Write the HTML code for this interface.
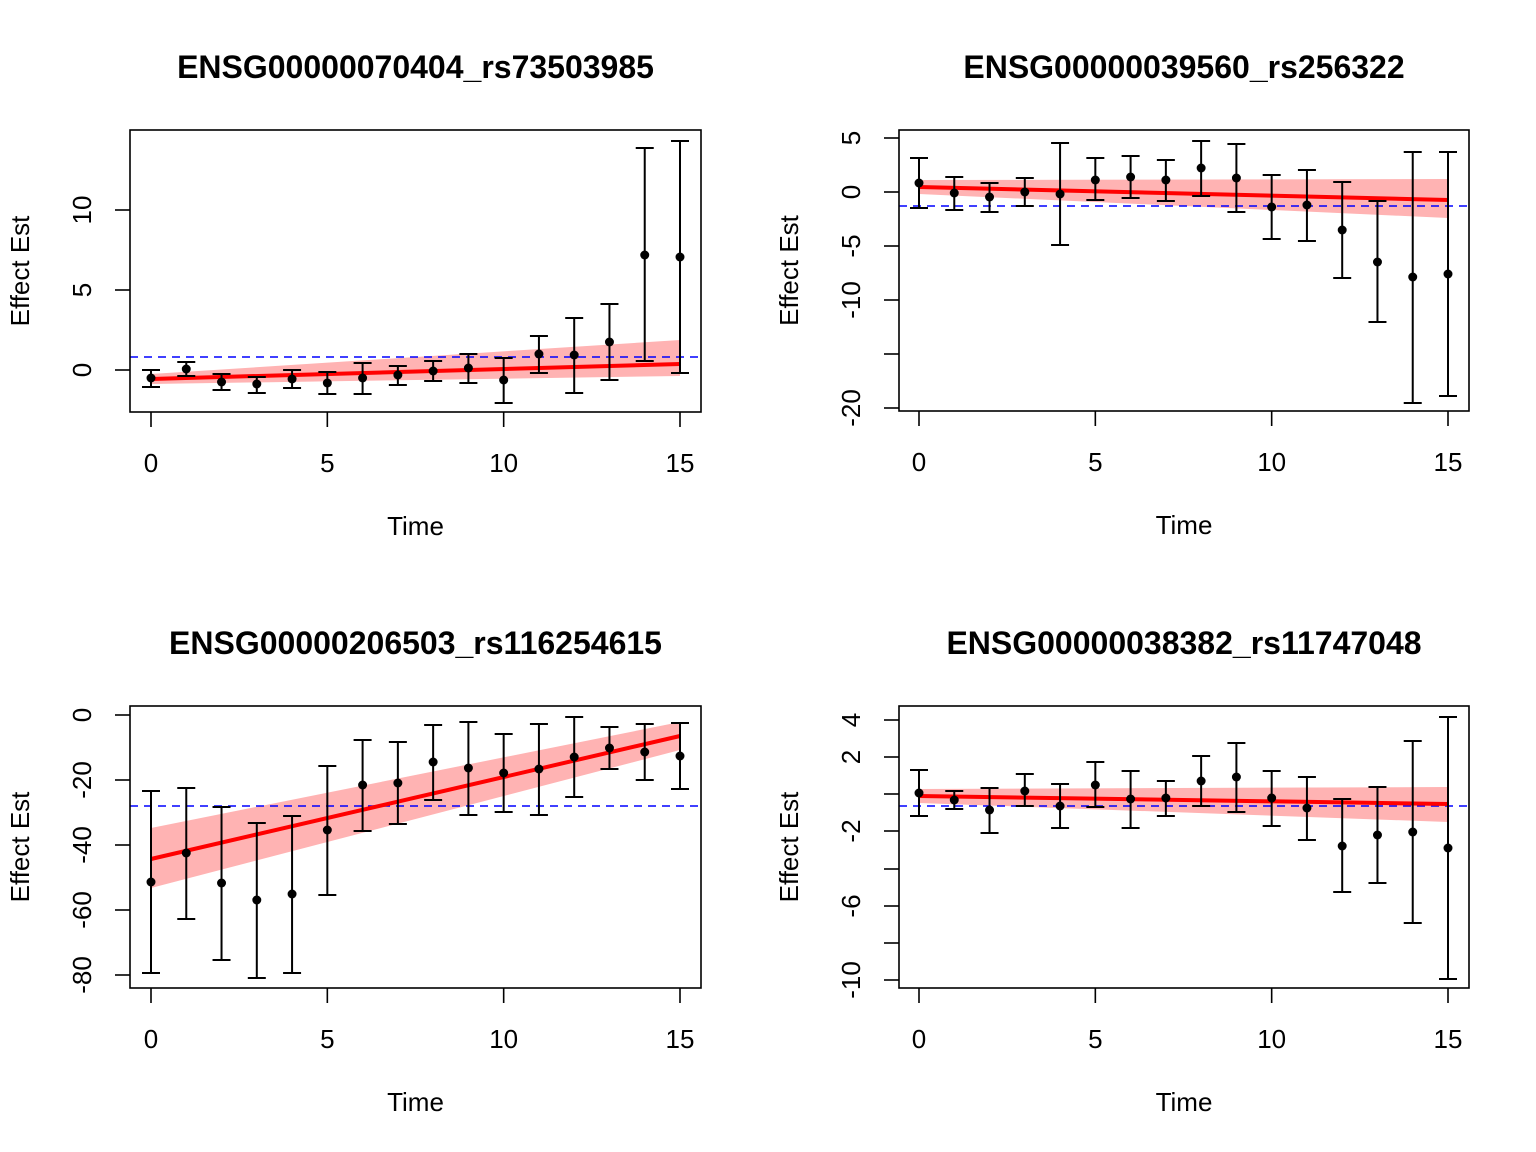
<!DOCTYPE html>
<html><head><meta charset="utf-8"><style>
html,body{margin:0;padding:0;background:#fff}
svg{display:block}
text{font-family:"Liberation Sans",Arial,sans-serif;fill:#000}
</style></head><body>
<svg id="s" width="1536" height="1152" xmlns="http://www.w3.org/2000/svg"></svg>
<script>
var P=[
{title:"ENSG00000070404_rs73503985",bx:130,by:130,bw:571,bh:282,x0:151,x15:680,
 yt:[[370,"0"],[290,"5"],[210,"10"]],blue:357,line:[379,364],band:[[374,384],[340,376]],
 pts:[[378,370,387],[369,362,376],[382,374,390],[384,377,393],[379,370,388],[383,372,394],[378,363,394],[375,366,385],[371,361,381],[368,354,383],[380,358,403],[354,336,373],[355,318,393],[342,304,380],[255,148,361],[257,141,373]]},
{title:"ENSG00000039560_rs256322",bx:899,by:130,bw:570,bh:281,x0:919,x15:1448,
 yt:[[138,"5"],[192,"0"],[246,"-5"],[300,"-10"],[354,""],[408,"-20"]],blue:206,line:[187,200],band:[[180,194],[179,218]],
 pts:[[183,158,208],[193,177,210],[197,183,212],[192,178,206],[194,143,245],[180,158,200],[177,156,198],[180,160,201],[168,141,196],[178,144,212],[207,175,239],[205,170,241],[230,182,278],[262,201,322],[277,152,403],[274,152,396]]},
{title:"ENSG00000206503_rs116254615",bx:130,by:706,bw:571,bh:282,x0:151,x15:680,
 yt:[[715,"0"],[780,"-20"],[845,"-40"],[910,"-60"],[975,"-80"]],blue:806,line:[859,736],band:[[828,888],[722,750]],
 pts:[[882,791,973],[853,788,919],[883,807,960],[900,823,978],[894,816,973],[830,766,895],[785,740,831],[783,742,824],[762,725,800],[768,722,815],[773,734,812],[769,724,815],[757,717,797],[748,727,769],[752,724,780],[756,723,789]]},
{title:"ENSG00000038382_rs11747048",bx:899,by:706,bw:570,bh:282,x0:919,x15:1448,
 yt:[[720,"4"],[757,"2"],[794,""],[831,"-2"],[869,""],[906,"-6"],[943,""],[980,"-10"]],blue:806,line:[796,804],band:[[789,803],[787,822]],
 pts:[[793,770,816],[800,791,809],[810,788,833],[791,774,806],[806,784,828],[785,762,807],[799,771,828],[798,781,816],[781,756,806],[777,743,812],[798,771,826],[808,777,840],[846,799,892],[835,787,883],[832,741,923],[848,717,979]]}
];
var h='';
P.forEach(function(p){
 var dx=(p.x15-p.x0)/15, cx=p.bx+p.bw/2, cy=p.by+p.bh/2, bot=p.by+p.bh;
 h+='<text x="'+cx+'" y="'+(p.by-52)+'" font-size="32" font-weight="bold" text-anchor="middle">'+p.title+'</text>';
 h+='<polygon points="'+p.x0+','+p.band[0][0]+' '+p.x15+','+p.band[1][0]+' '+p.x15+','+p.band[1][1]+' '+p.x0+','+p.band[0][1]+'" fill="#ffb3b3"/>';
 h+='<line x1="'+p.bx+'" x2="'+(p.bx+p.bw)+'" y1="'+p.blue+'" y2="'+p.blue+'" stroke="#0000ff" stroke-width="1.5" stroke-dasharray="8,6"/>';
 h+='<line x1="'+p.x0+'" x2="'+p.x15+'" y1="'+p.line[0]+'" y2="'+p.line[1]+'" stroke="#ff0000" stroke-width="4"/>';
 p.pts.forEach(function(q,i){var x=p.x0+i*dx;
  h+='<path d="M'+x+' '+q[1]+'V'+q[2]+'M'+(x-9)+' '+q[1]+'H'+(x+9)+'M'+(x-9)+' '+q[2]+'H'+(x+9)+'" stroke="#000" stroke-width="2" fill="none"/>';
  h+='<circle cx="'+x+'" cy="'+q[0]+'" r="4.5" fill="#000"/>';});
 h+='<rect x="'+p.bx+'" y="'+p.by+'" width="'+p.bw+'" height="'+p.bh+'" fill="none" stroke="#000" stroke-width="1.6"/>';
 [0,5,10,15].forEach(function(t){var x=p.x0+t*dx;
  h+='<line x1="'+x+'" x2="'+x+'" y1="'+bot+'" y2="'+(bot+15)+'" stroke="#000" stroke-width="1.6"/>';
  h+='<text x="'+x+'" y="'+(bot+60)+'" font-size="26" text-anchor="middle">'+t+'</text>';});
 p.yt.forEach(function(a){
  h+='<line x1="'+p.bx+'" x2="'+(p.bx-15)+'" y1="'+a[0]+'" y2="'+a[0]+'" stroke="#000" stroke-width="1.6"/>';
  if(a[1]) h+='<text transform="translate('+(p.bx-39)+','+a[0]+') rotate(-90)" font-size="26" text-anchor="middle">'+a[1]+'</text>';});
 h+='<text x="'+cx+'" y="'+(bot+123)+'" font-size="26" text-anchor="middle">Time</text>';
 h+='<text transform="translate('+(p.bx-101)+','+cy+') rotate(-90)" font-size="26" text-anchor="middle">Effect Est</text>';
});
document.getElementById('s').innerHTML=h;
</script>
</body></html>
